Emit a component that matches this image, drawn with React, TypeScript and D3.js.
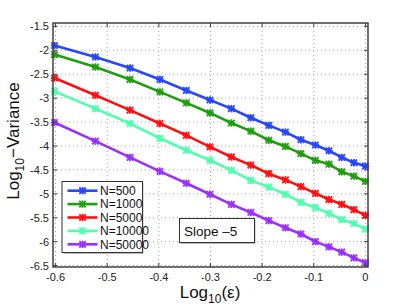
import React from "react";
import * as d3 from "d3";

const epsilons = [0.25, 0.3, 0.35, 0.4, 0.45, 0.5, 0.55, 0.6, 0.65, 0.7, 0.75, 0.8, 0.85, 0.9, 0.95, 1.0];

const n500 = [-1.9, -2.14, -2.37, -2.61, -2.84, -3.04, -3.22, -3.41, -3.57, -3.71, -3.87, -3.98, -4.1, -4.24, -4.35, -4.42];
const n1000 = [-2.09, -2.35, -2.61, -2.87, -3.1, -3.31, -3.52, -3.69, -3.88, -4.01, -4.16, -4.3, -4.38, -4.54, -4.63, -4.74];
const n5000 = [-2.58, -2.94, -3.25, -3.53, -3.78, -4.02, -4.23, -4.4, -4.58, -4.71, -4.85, -4.99, -5.12, -5.22, -5.33, -5.45];
const n10000 = [-2.86, -3.22, -3.53, -3.84, -4.09, -4.3, -4.51, -4.72, -4.86, -5.01, -5.18, -5.29, -5.41, -5.54, -5.62, -5.74];
const n50000 = [-3.51, -3.9, -4.24, -4.53, -4.78, -5.01, -5.22, -5.39, -5.56, -5.71, -5.84, -6.0, -6.11, -6.22, -6.34, -6.44];

const seriesNames = ["N=500", "N=1000", "N=5000", "N=10000", "N=50000"];
const seriesValues = [n500, n1000, n5000, n10000, n50000];
const seriesColors = ["#2846ff", "#1f9e10", "#ff1010", "#50ffae", "#9a30ff"];

const xTicks = [-0.6, -0.5, -0.4, -0.3, -0.2, -0.1, 0];
const yTicks = [-1.5, -2, -2.5, -3, -3.5, -4, -4.5, -5, -5.5, -6, -6.5];

const left = 53, right = 368, top = 23, bottom = 267;

const Marker = ({ x, y, color }: { x: number; y: number; color: string }) => {
  const s = 3.2;
  return (
    <g stroke={color} strokeWidth={1.8}>
      <line x1={x - s} y1={y - s} x2={x + s} y2={y + s} />
      <line x1={x - s} y1={y + s} x2={x + s} y2={y - s} />
      <line x1={x} y1={y - s - 0.5} x2={x} y2={y + s + 0.5} />
      <line x1={x - s - 0.5} y1={y} x2={x + s + 0.5} y2={y} />
    </g>
  );
};

export default function App() {
  const x = d3.scaleLinear().domain([-0.605, 0.005]).range([left, right]);
  const y = d3.scaleLinear().domain([-6.53, -1.43]).range([bottom, top]);
  const xs = epsilons.map((e) => Math.log10(e));

  const line = d3
    .line<number>()
    .x((_, i) => x(xs[i]))
    .y((v) => y(v));

  const font = "'Liberation Sans', Arial, sans-serif";
  const grid = "#a8a8a8";
  const axisColor = "#404040";

  return (
    <svg width={407} height={306} style={{ position: "absolute", left: 0, top: 0, background: "#fff" }} fontFamily={font}>
      {/* grid */}
      {xTicks.map((t) => (
        <line key={"gx" + t} x1={x(t)} x2={x(t)} y1={top} y2={bottom} stroke={grid} strokeWidth={1} strokeDasharray="1,3" />
      ))}
      {yTicks.map((t) => (
        <line key={"gy" + t} x1={left} x2={right} y1={y(t)} y2={y(t)} stroke={grid} strokeWidth={1} strokeDasharray="1,3" />
      ))}

      {/* series */}
      {seriesValues.map((vals, k) => (
        <g key={seriesNames[k]}>
          <path d={line(vals) || ""} fill="none" stroke={seriesColors[k]} strokeWidth={2.6} />
          {vals.map((v, i) => (
            <Marker key={i} x={x(xs[i])} y={y(v)} color={seriesColors[k]} />
          ))}
        </g>
      ))}

      {/* axes box + ticks */}
      <rect x={left} y={top} width={right - left} height={bottom - top} fill="none" stroke={axisColor} strokeWidth={1.5} />
      {xTicks.map((t) => (
        <g key={"tx" + t}>
          <line x1={x(t)} x2={x(t)} y1={bottom} y2={bottom - 4} stroke={axisColor} />
          <line x1={x(t)} x2={x(t)} y1={top} y2={top + 4} stroke={axisColor} />
          <text x={x(t)} y={281} textAnchor="middle" fontSize={11} fill="#222">
            {t}
          </text>
        </g>
      ))}
      {yTicks.map((t) => (
        <g key={"ty" + t}>
          <line x1={left} x2={left + 4} y1={y(t)} y2={y(t)} stroke={axisColor} />
          <line x1={right} x2={right - 4} y1={y(t)} y2={y(t)} stroke={axisColor} />
          <text x={49} y={y(t) + 4} textAnchor="end" fontSize={11} fill="#222">
            {t}
          </text>
        </g>
      ))}

      {/* axis labels */}
      <text x={210} y={298} textAnchor="middle" fontSize={17} fill="#111">
        Log<tspan fontSize={12} dy={5}>10</tspan>
        <tspan dy={-5}>(ε)</tspan>
      </text>
      <text transform="translate(19,141) rotate(-90)" textAnchor="middle" fontSize={17} fill="#111">
        Log<tspan fontSize={12} dy={5}>10</tspan>
        <tspan dy={-5}>−Variance</tspan>
      </text>

      {/* legend */}
      <rect x={63.5} y={183} width={80} height={71} fill="#b8b8b8" />
      <rect x={62} y={181.5} width={80.5} height={71} fill="#fff" stroke="#333" strokeWidth={1} />
      {seriesNames.map((name, k) => {
        const ly = 190.7 + k * 13.4;
        return (
          <g key={"lg" + name}>
            <line x1={67.5} x2={97.5} y1={ly} y2={ly} stroke={seriesColors[k]} strokeWidth={2.6} />
            <Marker x={82.5} y={ly} color={seriesColors[k]} />
            <text x={100} y={ly + 4.3} fontSize={12} fill="#111">
              {name}
            </text>
          </g>
        );
      })}

      {/* slope annotation */}
      <rect x={180.5} y={220} width={75} height={24} fill="#b8b8b8" />
      <rect x={179.5} y={218.5} width={75} height={24} fill="#fff" stroke="#333" strokeWidth={1} />
      <text x={184} y={235.5} fontSize={13.5} fill="#111">
        Slope –5
      </text>
    </svg>
  );
}
